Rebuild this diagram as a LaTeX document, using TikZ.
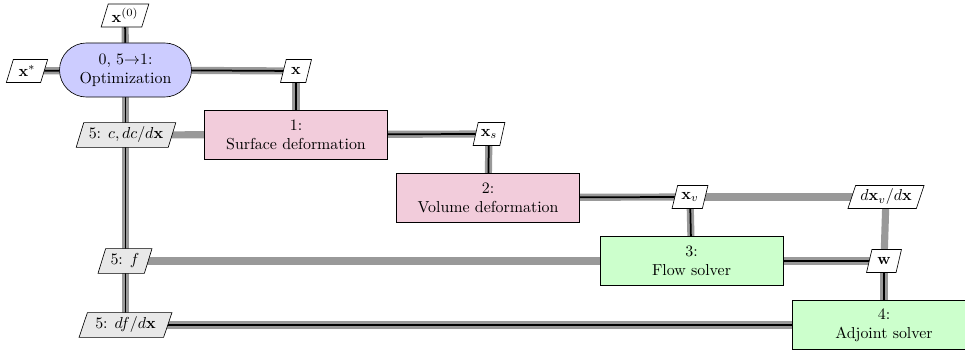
\documentclass[tikz,border=0pt]{standalone}
\usetikzlibrary{shapes.geometric,shapes.misc}
\pgfdeclarelayer{background}
\pgfsetlayers{background,main}
\definecolor{optfill}{RGB}{204,204,255}
\definecolor{funcfill}{RGB}{242,204,219}
\definecolor{anafill}{RGB}{204,255,204}
\definecolor{interfill}{RGB}{232,232,232}
\definecolor{linegray}{RGB}{153,153,153}
\tikzset{
  optbox/.style={draw, fill=optfill, rounded rectangle, minimum width=87pt, minimum height=34pt, align=center, inner sep=2pt},
  funcbox/.style={draw, fill=funcfill, rectangle, minimum width=115pt, minimum height=31pt, align=center, inner sep=2pt},
  anabox/.style={draw, fill=anafill, rectangle, minimum width=115pt, minimum height=31pt, align=center, inner sep=2pt},
  dataio/.style={draw, fill=white, trapezium, trapezium left angle=70, trapezium right angle=110, trapezium stretches=true, minimum height=14.5pt, inner xsep=1pt, inner ysep=1pt},
  datainter/.style={dataio, fill=interfill, minimum height=15.5pt},
  dataline/.style={draw=linegray, line width=4.5pt},
  procline/.style={draw=black, line width=1.1pt},
}
\newcommand{\procflow}[2]{\draw[dataline] (#1.center) -- (#2.center); \draw[procline] (#1.center) -- (#2.center);}
\newcommand{\dataflow}[2]{\draw[dataline] (#1.center) -- (#2.center);}
\begin{document}
\begin{tikzpicture}[x=0.629pt,y=-0.629pt]
\useasboundingbox (0,0) rectangle (965,352);
\clip (0,0) rectangle (965,352);
% nodes
\node[optbox] (opt) at (125.5,70) {0, 5$\rightarrow$1:\\Optimization};
\node[dataio, minimum width=30pt] (x0) at (125,15.5) {$\mathbf{x}^{(0)}$};
\node[dataio, minimum width=26pt] (xstar) at (27,71) {$\mathbf{x}^{*}$};
\node[dataio, minimum width=19.5pt] (x) at (296,71) {$\mathbf{x}$};
\node[funcbox] (surf) at (296,134.5) {1:\\Surface deformation};
\node[datainter, minimum width=63pt] (c) at (126,135) {5: $c, dc/d\mathbf{x}$};
\node[dataio, minimum width=20pt] (xs) at (489,134) {$\mathbf{x}_s$};
\node[funcbox] (vol) at (488,197.5) {2:\\Volume deformation};
\node[dataio, minimum width=22.6pt] (xv) at (690,197) {$\mathbf{x}_v$};
\node[dataio, minimum width=48pt] (dxv) at (886,197) {$d\mathbf{x}_v/d\mathbf{x}$};
\node[anabox] (flow) at (691.5,261) {3:\\Flow solver};
\node[dataio, minimum width=22pt] (w) at (884,261) {$\mathbf{w}$};
\node[datainter, minimum width=34pt] (f) at (125,261) {5: $f$};
\node[anabox] (adj) at (884,325) {4:\\Adjoint solver};
\node[datainter, minimum width=58.5pt] (df) at (125.5,325) {5: $df/d\mathbf{x}$};
% connectors
\begin{pgfonlayer}{background}
\dataflow{c}{surf}
\dataflow{xv}{dxv}
\dataflow{dxv}{w}
\dataflow{w}{adj}
\dataflow{f}{flow}
\procflow{x0}{opt}
\procflow{xstar}{opt}
\procflow{opt}{x}
\procflow{x}{surf}
\procflow{opt}{df}
\procflow{surf}{xs}
\procflow{xs}{vol}
\procflow{vol}{xv}
\procflow{xv}{flow}
\procflow{flow}{w}
\procflow{w}{adj}
\procflow{df}{adj}
\end{pgfonlayer}
\end{tikzpicture}
\end{document}
